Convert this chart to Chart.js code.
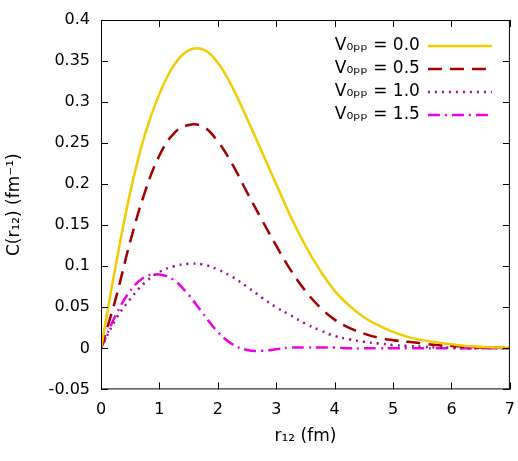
<!DOCTYPE html>
<html><head><meta charset="utf-8">
<script src="https://cdn.jsdelivr.net/npm/chart.js@4/dist/chart.umd.min.js"></script>
<style>body{margin:0;background:#fff}#wrap{width:518px;height:461px}</style>
</head><body><div id="wrap"><canvas id="c"></canvas></div>
<script>
const rValues = [0,.25,.5,.75,1,1.25,1.5,1.75,2,2.25,2.5,2.75,3,3.25,3.5,3.75,4,4.25,4.5,4.75,5,5.25,5.5,5.75,6,6.25,6.5,6.75,7];
const c00 = [0,.1,.19,.26,.31,.345,.363,.364,.348,.318,.28,.24,.2,.16,.125,.095,.07,.052,.038,.028,.02,.014,.01,.007,.005,.003,.002,.001,.001];
const c05 = [0,.06,.13,.19,.235,.262,.272,.27,.252,.224,.19,.157,.125,.095,.07,.05,.035,.025,.018,.013,.01,.008,.006,.004,.003,.002,.001,.001,0];
const c10 = [0,.035,.06,.08,.093,.1,.103,.102,.096,.087,.075,.062,.05,.04,.03,.022,.015,.011,.008,.006,.004,.003,.002,.001,.001,0,0,0,0];
const c15 = [0,.04,.07,.087,.09,.083,.065,.042,.02,.005,-.002,-.003,-.001,.001,.001,.001,.001,0,0,0,0,0,0,0,0,0,0,0,0];
const labels = ['V₀ₚₚ = 0.0','V₀ₚₚ = 0.5','V₀ₚₚ = 1.0','V₀ₚₚ = 1.5'];
const colors = ['#f2cc00','#a50000','#a0108a','#f000e0'];
const dashes = [[],[14,8],[2,5],[12,5,2,5]];
const series = [c00,c05,c10,c15];

const font = "'DejaVu Sans', sans-serif";
const frame = {
  id:'frame',
  afterDraw(ch){
    const {ctx, chartArea:a, scales:{x,y}} = ch;
    ctx.save();
    ctx.strokeStyle='#000'; ctx.lineWidth=1;
    ctx.strokeRect(a.left+.5,a.top+.5,a.right-a.left-1,a.bottom-a.top-1);
    ctx.beginPath();
    for(let v=0;v<=7;v++){const p=Math.round(x.getPixelForValue(v))+.5;ctx.moveTo(p,a.bottom);ctx.lineTo(p,a.bottom-7);ctx.moveTo(p,a.top);ctx.lineTo(p,a.top+7);}
    for(let i=-1;i<=8;i++){const p=Math.round(y.getPixelForValue(i*0.05))+.5;ctx.moveTo(a.left,p);ctx.lineTo(a.left+7,p);ctx.moveTo(a.right,p);ctx.lineTo(a.right-7,p);}
    ctx.stroke();
    ctx.font='17px '+font; ctx.textAlign='right'; ctx.textBaseline='middle'; ctx.fillStyle='#000';
    labels.forEach((l,i)=>{
      const yy=a.top+26+i*23;
      ctx.fillText(l,a.right-90,yy);
      ctx.strokeStyle=colors[i]; ctx.lineWidth=2.5; ctx.setLineDash(dashes[i]);
      ctx.beginPath(); ctx.moveTo(a.right-82,yy); ctx.lineTo(a.right-18,yy); ctx.stroke();
    });
    ctx.restore();
  }
};

new Chart(document.getElementById('c'),{
  type:'line',
  data:{datasets: series.map((s,i)=>({
    label:labels[i], data:s.map((v,j)=>({x:rValues[j],y:v})),
    borderColor:colors[i], borderWidth:2.5, borderDash:dashes[i],
    pointRadius:0, tension:0.4, fill:false
  }))},
  options:{
    responsive:true, maintainAspectRatio:false, animation:false,
    layout:{padding:{top:20,right:3,left:0,bottom:10}},
    plugins:{legend:{display:false},tooltip:{enabled:false}},
    scales:{
      x:{type:'linear',min:0,max:7,
        grid:{display:false},border:{display:false},
        ticks:{stepSize:1,color:'#000',font:{family:font,size:16}},
        title:{display:true,text:'r₁₂ (fm)',color:'#000',font:{family:font,size:17},padding:{top:4}}},
      y:{min:-0.05,max:0.4,
        afterFit(s){s.width=101;},
        grid:{display:false},border:{display:false},
        ticks:{stepSize:0.05,color:'#000',font:{family:font,size:16},callback:v=>{const r=Math.round(v*100)/100;return r===0?'0':String(r);}},
        title:{display:true,text:'C(r₁₂) (fm⁻¹)',color:'#000',font:{family:font,size:17},padding:{bottom:6}}}
    }
  },
  plugins:[frame]
});
</script></body></html>
